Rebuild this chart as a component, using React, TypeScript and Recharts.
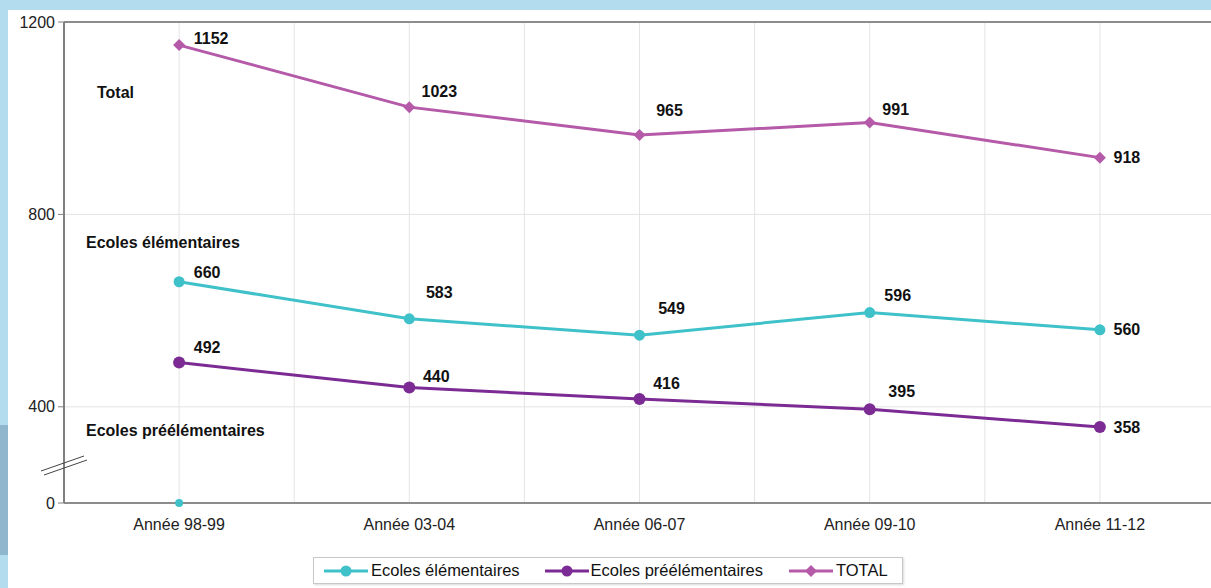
import React from "react";
import {
  LineChart,
  Line,
  XAxis,
  YAxis,
  CartesianGrid,
  LabelList,
  ReferenceLine,
  ReferenceDot,
} from "recharts";

const YEARS = ["Année 98-99", "Année 03-04", "Année 06-07", "Année 09-10", "Année 11-12"];
const ELEMENTAIRES = [660, 583, 549, 596, 560];
const PREELEMENTAIRES = [492, 440, 416, 395, 358];
const TOTAL = [1152, 1023, 965, 991, 918];

// broken axis: the bottom tick (200) is shown as "0"
const Y_TICKS = [200, 400, 800, 1200];
const Y_TICK_LABELS = ["0", "400", "800", "1200"];

const COLORS = {
  elem: "#3fc1c9",
  pre: "#7b2b93",
  total: "#b55aa8",
};

// label centre offsets from each point
const TOTAL_OFFSETS = [[32, -7], [30, -16], [30, -25], [26, -13], [27, 0]];
const ELEM_OFFSETS = [[28, -9], [30, -26], [32, -27], [28, -17], [27, 0]];
const PRE_OFFSETS = [[28, -15], [27, -11], [27, -16], [32, -18], [27, 0]];

const FONT = '"Liberation Sans", Arial, sans-serif';

const data = YEARS.map((year, i) => ({
  year,
  elem: ELEMENTAIRES[i],
  pre: PREELEMENTAIRES[i],
  total: TOTAL[i],
}));

const makeLabel = (offsets: number[][]) => (props: any) => {
  const { x, y, value, index } = props;
  const [dx, dy] = offsets[index] || [25, -12];
  return (
    <text
      x={x + dx}
      y={y + dy}
      textAnchor="middle"
      dominantBaseline="central"
      fontFamily={FONT}
      fontSize={16}
      fontWeight="bold"
      fill="#111"
    >
      {value}
    </text>
  );
};

const Diamond = (props: any) => {
  const { cx, cy } = props;
  if (cx == null || cy == null) return null;
  const s = 6;
  return (
    <polygon
      points={`${cx},${cy - s} ${cx + s},${cy} ${cx},${cy + s} ${cx - s},${cy}`}
      fill={COLORS.total}
    />
  );
};

function LegendIcon({ color, diamond }: { color: string; diamond?: boolean }) {
  return (
    <svg width={44} height={14} style={{ display: "block" }}>
      <line x1={0} y1={7} x2={44} y2={7} stroke={color} strokeWidth={3} />
      {diamond ? (
        <polygon points="22,1 28,7 22,13 16,7" fill={color} />
      ) : (
        <circle cx={22} cy={7} r={5.5} fill={color} />
      )}
    </svg>
  );
}

export default function App() {
  return (
    <div
      style={{
        position: "absolute",
        left: 0,
        top: 0,
        width: 1211,
        height: 588,
        overflow: "hidden",
        background: "#b4dcef",
        fontFamily: FONT,
      }}
    >
      <div
        style={{
          position: "absolute",
          left: 0,
          top: 425,
          width: 8,
          height: 130,
          background: "#8fb6cd",
        }}
      />
      <div
        style={{
          position: "absolute",
          left: 8,
          top: 10,
          width: 1203,
          height: 578,
          background: "#ffffff",
        }}
      />
      <div style={{ position: "absolute", left: 0, top: 0 }}>
        <LineChart
          width={1225}
          height={588}
          data={data}
          margin={{ top: 22, right: 10, left: 0, bottom: 55 }}
        >
          <CartesianGrid
            stroke="#e4e4e4"
            strokeWidth={1}
            verticalCoordinatesGenerator={({ offset }: any) => {
              const band = offset.width / YEARS.length;
              return Array.from(
                { length: YEARS.length * 2 },
                (_, k) => offset.left + ((k + 1) * band) / 2
              );
            }}
          />
          <XAxis
            dataKey="year"
            scale="band"
            height={30}
            tickLine={false}
            tickSize={6}
            tickMargin={10}
            axisLine={{ stroke: "#8c8c8c", strokeWidth: 2 }}
            tick={{ fontSize: 16, fill: "#222", fontFamily: FONT }}
          />
          <YAxis
            width={64}
            domain={[200, 1200]}
            ticks={Y_TICKS}
            allowDataOverflow
            tickFormatter={(v: number) => Y_TICK_LABELS[Y_TICKS.indexOf(v)] ?? String(v)}
            tickSize={6}
            tickMargin={3}
            axisLine={{ stroke: "#808080", strokeWidth: 2 }}
            tickLine={{ stroke: "#808080" }}
            tick={{ fontSize: 16, fill: "#222", fontFamily: FONT }}
          />
          <ReferenceLine y={1200} stroke="#8c8c8c" strokeWidth={2} />
          <ReferenceDot
            x={YEARS[0]}
            y={200}
            r={4}
            fill={COLORS.elem}
            stroke="none"
          />
          <Line
            type="linear"
            dataKey="total"
            name="TOTAL"
            stroke={COLORS.total}
            strokeWidth={3}
            dot={<Diamond />}
            activeDot={false}
            isAnimationActive={false}
          >
            <LabelList dataKey="total" content={makeLabel(TOTAL_OFFSETS)} />
          </Line>
          <Line
            type="linear"
            dataKey="elem"
            name="Ecoles élémentaires"
            stroke={COLORS.elem}
            strokeWidth={3}
            dot={{ r: 5.5, fill: COLORS.elem, stroke: "none" }}
            activeDot={false}
            isAnimationActive={false}
          >
            <LabelList dataKey="elem" content={makeLabel(ELEM_OFFSETS)} />
          </Line>
          <Line
            type="linear"
            dataKey="pre"
            name="Ecoles préélémentaires"
            stroke={COLORS.pre}
            strokeWidth={3}
            dot={{ r: 6, fill: COLORS.pre, stroke: "none" }}
            activeDot={false}
            isAnimationActive={false}
          >
            <LabelList dataKey="pre" content={makeLabel(PRE_OFFSETS)} />
          </Line>
        </LineChart>
      </div>

      {/* series captions and axis break mark */}
      <svg
        width={1211}
        height={588}
        style={{ position: "absolute", left: 0, top: 0, pointerEvents: "none" }}
      >
        <g fontFamily={FONT} fontSize={16} fontWeight="bold" fill="#111">
          <text x={97} y={92} dominantBaseline="central">Total</text>
          <text x={86} y={242} dominantBaseline="central">Ecoles élémentaires</text>
          <text x={86} y={430} dominantBaseline="central">Ecoles préélémentaires</text>
        </g>
        <line x1={41} y1={471} x2={84} y2={456} stroke="#444" strokeWidth={1} />
        <line x1={44} y1={475} x2={87} y2={460} stroke="#444" strokeWidth={1} />
      </svg>

      <div
        style={{
          position: "absolute",
          left: 313,
          top: 557,
          width: 590,
          height: 27,
          border: "1px solid #c8c8c8",
          boxShadow: "1px 1px 2px rgba(0,0,0,0.15)",
          background: "#fff",
          display: "flex",
          alignItems: "center",
          paddingLeft: 10,
          boxSizing: "border-box",
          fontSize: 16.5,
          color: "#111",
          whiteSpace: "nowrap",
        }}
      >
        <LegendIcon color={COLORS.elem} />
        <span style={{ marginLeft: 3, marginRight: 25 }}>Ecoles élémentaires</span>
        <LegendIcon color={COLORS.pre} />
        <span style={{ marginLeft: 2, marginRight: 26 }}>Ecoles préélémentaires</span>
        <LegendIcon color={COLORS.total} diamond />
        <span style={{ marginLeft: 3 }}>TOTAL</span>
      </div>
    </div>
  );
}
